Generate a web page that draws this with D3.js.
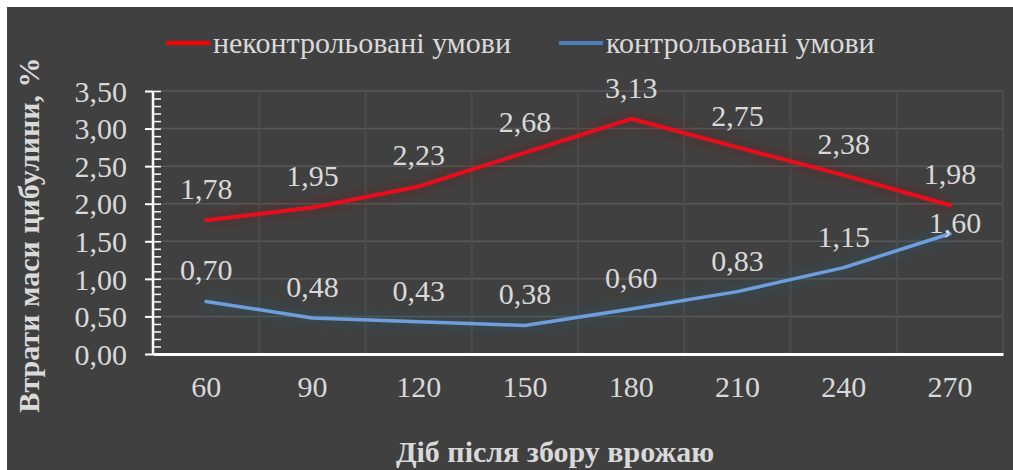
<!DOCTYPE html>
<html>
<head>
<meta charset="utf-8">
<script src="https://cdn.jsdelivr.net/npm/d3@7"></script>
<style>
  html, body { margin: 0; padding: 0; background: #ffffff; }
  svg { display: block; }
  svg text { font-family: "Liberation Serif", "Tinos", "Times New Roman", "DejaVu Serif", serif; }
</style>
</head>
<body>
<svg id="chart" width="1013" height="470"></svg>
<script>
// Days after harvest and onion bulb mass losses, %
const days = ["60", "90", "120", "150", "180", "210", "240", "270"];
const uncontrolled = [1.78, 1.95, 2.23, 2.68, 3.13, 2.75, 2.38, 1.98];
const controlled = [0.70, 0.48, 0.43, 0.38, 0.60, 0.83, 1.15, 1.60];
const yTicks = [0, 0.5, 1.0, 1.5, 2.0, 2.5, 3.0, 3.5];
const seriesNames = ["неконтрольовані умови", "контрольовані умови"];

const fmt = v => v.toFixed(2).replace(".", ",");
const TEXT = "#d9d9d9";
const FS = 30;

const svg = d3.select("#chart");
const W = 1013, H = 470;
const plot = { left: 153, right: 1003, top: 91, bottom: 354 };

// background panel
svg.append("rect").attr("x", 7).attr("y", 7).attr("width", W - 7).attr("height", H - 7).attr("fill", "#404040");

const x = d3.scaleBand().domain(days).range([plot.left, plot.right]);
const y = d3.scaleLinear().domain([0, 3.5]).range([plot.bottom, plot.top]);
const cx = d => x(d) + x.bandwidth() / 2;

// glow filters
const defs = svg.append("defs");
function glow(id, color, sd, op) {
  const f = defs.append("filter").attr("id", id)
    .attr("x", "-10%").attr("y", "-40%").attr("width", "120%").attr("height", "180%");
  f.append("feGaussianBlur").attr("in", "SourceAlpha").attr("stdDeviation", sd).attr("result", "b");
  f.append("feFlood").attr("flood-color", color).attr("flood-opacity", op);
  f.append("feComposite").attr("in2", "b").attr("operator", "in").attr("result", "g");
  const m = f.append("feMerge");
  m.append("feMergeNode").attr("in", "g");
  m.append("feMergeNode").attr("in", "SourceGraphic");
}
glow("glowRed", "#8a1020", 7, 0.6);
glow("glowBlue", "#1e6a8a", 7, 0.6);

// gridlines
const grid = svg.append("g");
grid.selectAll(".hg").data(yTicks.slice(1)).join("line")
  .attr("x1", plot.left).attr("x2", plot.right)
  .attr("y1", d => y(d)).attr("y2", d => y(d))
  .attr("stroke", "#585858").attr("stroke-width", 1.5);
grid.selectAll(".vg").data(days.slice(1).concat(["end"])).join("line")
  .attr("x1", d => d === "end" ? plot.right : x(d)).attr("x2", d => d === "end" ? plot.right : x(d))
  .attr("y1", plot.top).attr("y2", plot.bottom)
  .attr("stroke", "#4c4c4c").attr("stroke-width", 2);

// series lines
const line = d3.line().x((d, i) => cx(days[i])).y(d => y(d));
svg.append("path").datum(uncontrolled).attr("d", line)
  .attr("fill", "none").attr("stroke", "#e8101c").attr("stroke-width", 4)
  .attr("stroke-linecap", "round").attr("stroke-linejoin", "round").attr("filter", "url(#glowRed)");
svg.append("path").datum(controlled).attr("d", line)
  .attr("fill", "none").attr("stroke", "#6e9fdc").attr("stroke-width", 3.5)
  .attr("stroke-linecap", "round").attr("stroke-linejoin", "round").attr("filter", "url(#glowBlue)");

// axes
const yMajor = d3.axisLeft(y).tickValues(yTicks).tickSize(8).tickFormat(fmt);
const yG = svg.append("g").attr("transform", `translate(${plot.left},0)`).call(yMajor);
yG.attr("font-family", null);
yG.select(".domain").remove();
yG.selectAll(".tick line").attr("stroke", "#ffffff").attr("stroke-width", 2);
yG.selectAll(".tick text").attr("fill", TEXT).attr("font-size", FS)
  .attr("x", -26).attr("dy", "0.34em");
// minor ticks inside the plot
const minor = d3.range(0, 36).map(i => i / 10);
svg.append("g").attr("transform", `translate(${plot.left},0)`)
  .call(d3.axisRight(y).tickValues(minor).tickSize(8).tickFormat(""))
  .call(g => g.select(".domain").remove())
  .selectAll(".tick line").attr("stroke", "#ffffff").attr("stroke-width", 1.5);
svg.append("line").attr("x1", plot.left).attr("x2", plot.left).attr("y1", plot.top).attr("y2", plot.bottom)
  .attr("stroke", "#ffffff").attr("stroke-width", 2.5);

const xG = svg.append("g").attr("transform", `translate(0,${plot.bottom})`)
  .call(d3.axisBottom(x).tickSize(0));
xG.attr("font-family", null);
xG.select(".domain").attr("stroke", "#ffffff").attr("stroke-width", 3);
xG.selectAll(".tick text").attr("fill", TEXT).attr("font-size", FS)
  .attr("y", 22).attr("dy", "0.71em");

// data labels
function labels(values, cls) {
  svg.append("g").selectAll("text").data(values).join("text")
    .attr("x", (d, i) => cx(days[i]) + (cls === "c" && i === 7 ? 5 : 0))
    .attr("y", (d, i) => y(d) - (cls === "c" && i === 7 ? 1 : 21))
    .attr("text-anchor", "middle").attr("fill", TEXT)
    .attr("font-size", FS)
    .text(fmt);
}
labels(uncontrolled, "u");
labels(controlled, "c");

// legend
const legend = [
  { name: seriesNames[0], color: "#ff0000", x: 166 },
  { name: seriesNames[1], color: "#4a7ebb", x: 559 }
];
const lg = svg.append("g").selectAll("g").data(legend).join("g");
lg.append("line").attr("x1", d => d.x).attr("x2", d => d.x + 44).attr("y1", 43).attr("y2", 43)
  .attr("stroke", d => d.color).attr("stroke-width", 4);
lg.append("text").attr("x", d => d.x + 47).attr("y", 53)
  .attr("fill", TEXT).attr("font-size", FS).text(d => d.name);

// axis titles
svg.append("text").attr("x", 555).attr("y", 462).attr("text-anchor", "middle")
  .attr("fill", TEXT).attr("font-size", 30).attr("font-weight", "bold")
  .text("Діб після збору врожаю");
svg.append("text").attr("transform", "translate(39,235) rotate(-90)").attr("text-anchor", "middle")
  .attr("fill", TEXT).attr("font-size", 30).attr("font-weight", "bold")
  .text("Втрати маси цибулини, %");
</script>
</body>
</html>
